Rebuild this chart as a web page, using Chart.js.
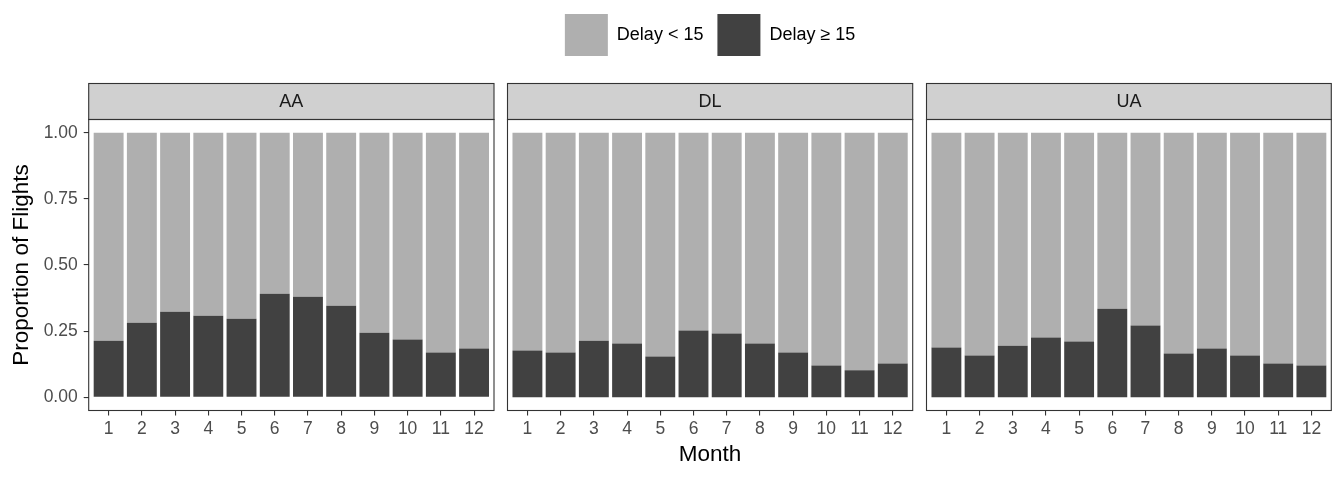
<!DOCTYPE html>
<html>
<head>
<meta charset="utf-8">
<script src="https://cdn.jsdelivr.net/npm/chart.js@4.4.1/dist/chart.umd.min.js"></script>
<style>
  html, body { margin: 0; padding: 0; background: #ffffff; }
  #wrap { position: relative; width: 1344px; height: 480px; }
  #wrap canvas { position: absolute; left: 0; top: 0; }
</style>
</head>
<body>
<div id="wrap">
  <canvas id="cAA" width="1344" height="480"></canvas>
  <canvas id="cDL" width="1344" height="480"></canvas>
  <canvas id="cUA" width="1344" height="480"></canvas>
</div>
<script>
// ---- data ----
const months = [1, 2, 3, 4, 5, 6, 7, 8, 9, 10, 11, 12];
const carriers = ['AA', 'DL', 'UA'];
const seriesLabels = ['Delay < 15', 'Delay \u2265 15'];
const yTickValues = [0, 0.25, 0.5, 0.75, 1];

const onTimeAA  = [0.786, 0.718, 0.677, 0.692, 0.703, 0.609, 0.620, 0.654, 0.756, 0.782, 0.831, 0.816];
const delayedAA = [0.214, 0.282, 0.323, 0.308, 0.297, 0.391, 0.380, 0.346, 0.244, 0.218, 0.169, 0.184];
const onTimeDL  = [0.823, 0.831, 0.786, 0.797, 0.846, 0.748, 0.759, 0.797, 0.831, 0.880, 0.898, 0.872];
const delayedDL = [0.177, 0.169, 0.214, 0.203, 0.154, 0.252, 0.241, 0.203, 0.169, 0.120, 0.102, 0.128];
const onTimeUA  = [0.812, 0.842, 0.805, 0.774, 0.789, 0.665, 0.729, 0.835, 0.816, 0.842, 0.872, 0.880];
const delayedUA = [0.188, 0.158, 0.195, 0.226, 0.211, 0.335, 0.271, 0.165, 0.184, 0.158, 0.128, 0.120];

// ---- styling ----
const FONT = "'Liberation Sans', Arial, Helvetica, sans-serif";
const LIGHT = '#AFAFAF';
const DARK = '#414141';
const STRIP_H = 36;
const X_AXIS_H = 69.5;

const panelDecor = {
  id: 'panelDecor',
  beforeDraw(chart) {
    const { ctx, chartArea: a } = chart;
    ctx.save();
    ctx.fillStyle = '#D0D0D0';
    ctx.fillRect(a.left, a.top - STRIP_H, a.right - a.left, STRIP_H);
    ctx.strokeStyle = '#333333';
    ctx.lineWidth = 1.1;
    ctx.strokeRect(a.left, a.top - STRIP_H, a.right - a.left, STRIP_H);
    ctx.restore();
  },
  afterDraw(chart) {
    const { ctx, chartArea: a } = chart;
    ctx.save();
    ctx.strokeStyle = '#333333';
    ctx.lineWidth = 1.1;
    ctx.strokeRect(a.left, a.top, a.right - a.left, a.bottom - a.top);
    ctx.restore();
  }
};

function makePanel(id, carrier, onTime, delayed, cfg) {
  const tickGrid = {
    display: true, drawOnChartArea: false, drawTicks: true,
    tickLength: 5, color: '#333333', lineWidth: 1.1, offset: false
  };
  return new Chart(document.getElementById(id), {
    type: 'bar',
    data: {
      labels: months,
      datasets: [
        { label: seriesLabels[1], data: delayed, backgroundColor: DARK, borderWidth: 0 },
        { label: seriesLabels[0], data: onTime, backgroundColor: LIGHT, borderWidth: 0 }
      ]
    },
    options: {
      responsive: false,
      animation: false,
      events: [],
      layout: { padding: cfg.padding },
      datasets: { bar: { categoryPercentage: 0.9, barPercentage: 1.0 } },
      scales: {
        x: {
          type: 'linear', stacked: true, offset: false,
          min: 0.4, max: 12.6,
          afterBuildTicks: s => { s.ticks = months.map(v => ({ value: v })); },
          afterFit: s => { s.height = X_AXIS_H; },
          ticks: { color: '#4D4D4D', font: { family: FONT, size: 17.5 }, padding: 3, maxRotation: 0, autoSkip: false },
          grid: tickGrid,
          border: { display: false },
          title: {
            display: cfg.xTitle, text: 'Month', color: '#000000',
            font: { family: FONT, size: 22.5 }, padding: { top: 0, bottom: 12 }
          }
        },
        y: {
          display: cfg.yAxis, stacked: true,
          min: -0.05, max: 1.05,
          afterBuildTicks: s => { s.ticks = yTickValues.map(v => ({ value: v })); },
          afterFit: s => { s.width = cfg.yAxis ? 88.7 : 0; },
          ticks: { color: '#4D4D4D', font: { family: FONT, size: 17.5 }, padding: 6,
                   callback: v => Number(v).toFixed(2) },
          grid: tickGrid,
          border: { display: false },
          title: {
            display: true, text: 'Proportion of Flights', color: '#000000',
            font: { family: FONT, size: 22.5 }, padding: { top: 8, bottom: 0 }
          }
        }
      },
      plugins: {
        tooltip: { enabled: false },
        legend: cfg.legend ? {
          display: true, position: 'top', weight: 3000, fullSize: true, reverse: true,
          labels: {
            boxWidth: 43, boxHeight: 42, padding: 14, color: '#000000',
            font: { family: FONT, size: 18 }
          }
        } : { display: false },
        title: {
          display: true, text: carrier, position: 'top', fullSize: false, align: 'center',
          color: '#1A1A1A', font: { family: FONT, size: 18, weight: 'normal' },
          padding: cfg.titlePadding
        }
      }
    },
    plugins: [panelDecor]
  });
}

makePanel('cAA', carriers[0], onTimeAA, delayedAA, {
  padding: { left: 0, right: 850, top: 82.5, bottom: 0 },
  yAxis: true, xTitle: false, legend: false,
  titlePadding: { top: 8.5, bottom: 6.9 }
});
makePanel('cDL', carriers[1], onTimeDL, delayedDL, {
  padding: { left: 507.5, right: 431.3, top: 0, bottom: 0 },
  yAxis: false, xTitle: true, legend: true,
  titlePadding: { top: 25, bottom: 6.9 }
});
makePanel('cUA', carriers[2], onTimeUA, delayedUA, {
  padding: { left: 926.5, right: 12.7, top: 82.5, bottom: 0 },
  yAxis: false, xTitle: false, legend: false,
  titlePadding: { top: 8.5, bottom: 6.9 }
});
</script>
</body>
</html>
